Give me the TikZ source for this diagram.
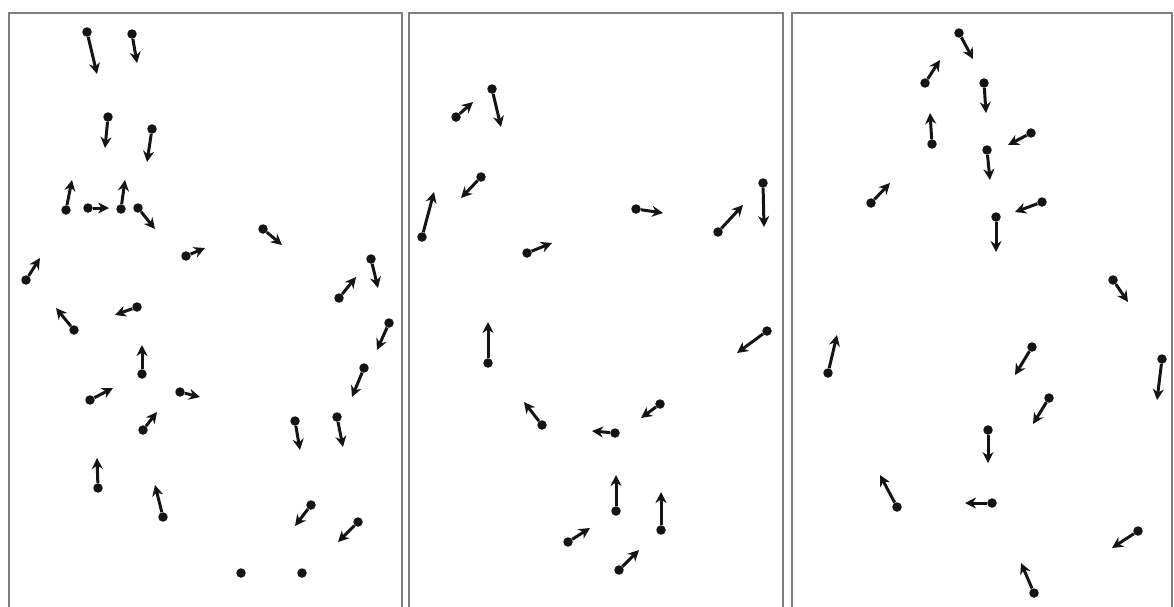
\documentclass[tikz,border=0pt]{standalone}
\usetikzlibrary{arrows.meta}
\tikzset{
  dot/.style={circle, fill=black!92, inner sep=0pt, minimum size=9.5pt},
  arr/.style={line width=3pt, draw=black!92, -{Stealth[length=11pt,width=11pt]}},
  panel/.style={draw=black!50, line width=2.2pt},
}
\newcommand\arrowitem[5]{%
  \node[dot] (d#1) at (#2,#3) {};
  \coordinate (t#1) at (#4,#5);
  \draw[arr] (d#1) -- (t#1);}
\begin{document}
\begin{tikzpicture}[x=1pt,y=-1pt]
\useasboundingbox (0,0) rectangle (1174,606);
\clip (0,0) rectangle (1174,606);
\fill[white] (0,0) rectangle (1174,606);
% panels
\draw[panel] (9,13) rectangle (402,640);
\draw[panel] (409,13) rectangle (783,640);
\draw[panel] (792,13) rectangle (1172,640);
% panel 1
\arrowitem{1}{87}{32}{97}{74}
\arrowitem{2}{132}{34}{137}{63}
\arrowitem{3}{108}{117}{105}{148}
\arrowitem{4}{152}{129}{147}{162}
\arrowitem{5}{66}{210}{72}{180}
\arrowitem{6}{88}{208}{109}{208}
\arrowitem{7}{121}{209}{125}{180}
\arrowitem{8}{138}{208}{155}{229}
\arrowitem{9}{186}{256}{205}{248}
\arrowitem{10}{26}{280}{40}{258}
\arrowitem{11}{263}{229}{282}{245}
\arrowitem{12}{339}{298}{356}{277}
\arrowitem{13}{371}{259}{378}{288}
\arrowitem{14}{74}{330}{56}{308}
\arrowitem{15}{137}{307}{115}{315}
\arrowitem{16}{142}{374}{142}{345}
\arrowitem{17}{90}{400}{113}{388}
\arrowitem{18}{180}{392}{200}{397}
\arrowitem{19}{143}{430}{157}{412}
\arrowitem{20}{98}{488}{97}{458}
\arrowitem{21}{163}{517}{155}{485}
\arrowitem{22}{389}{323}{377}{350}
\arrowitem{23}{364}{368}{352}{397}
\arrowitem{24}{295}{421}{300}{450}
\arrowitem{25}{337}{417}{343}{447}
\arrowitem{26}{311}{505}{295}{526}
\arrowitem{27}{358}{522}{338}{542}
\node[dot] (d28) at (241,573) {};
\node[dot] (d29) at (302,573) {};
% panel 2
\arrowitem{30}{456}{117}{473}{102}
\arrowitem{31}{492}{89}{501}{127}
\arrowitem{32}{481}{177}{461}{198}
\arrowitem{33}{422}{237}{434}{192}
\arrowitem{34}{527}{253}{552}{243}
\arrowitem{35}{636}{209}{663}{213}
\arrowitem{36}{718}{232}{743}{205}
\arrowitem{37}{763}{183}{764}{227}
\arrowitem{38}{488}{363}{488}{322}
\arrowitem{39}{542}{425}{524}{402}
\arrowitem{40}{568}{542}{590}{528}
\arrowitem{41}{615}{433}{592}{431}
\arrowitem{42}{660}{404}{641}{418}
\arrowitem{43}{767}{331}{737}{353}
\arrowitem{44}{616}{511}{616}{475}
\arrowitem{45}{661}{530}{661}{492}
\arrowitem{46}{619}{570}{639}{550}
% panel 3
\arrowitem{47}{959}{33}{973}{59}
\arrowitem{48}{925}{83}{940}{60}
\arrowitem{49}{932}{144}{930}{113}
\arrowitem{50}{871}{203}{890}{183}
\arrowitem{51}{984}{83}{986}{113}
\arrowitem{52}{1031}{133}{1008}{145}
\arrowitem{53}{987}{150}{990}{180}
\arrowitem{54}{1042}{202}{1015}{212}
\arrowitem{55}{996}{217}{996}{252}
\arrowitem{56}{1113}{280}{1128}{302}
\arrowitem{57}{828}{373}{837}{335}
\arrowitem{58}{897}{507}{880}{475}
\arrowitem{59}{992}{503}{965}{503}
\arrowitem{60}{1032}{347}{1015}{375}
\arrowitem{61}{1049}{398}{1033}{424}
\arrowitem{62}{988}{430}{988}{463}
\arrowitem{63}{1162}{359}{1157}{400}
\arrowitem{64}{1138}{531}{1112}{548}
\arrowitem{65}{1034}{593}{1021}{563}
\end{tikzpicture}
\end{document}
